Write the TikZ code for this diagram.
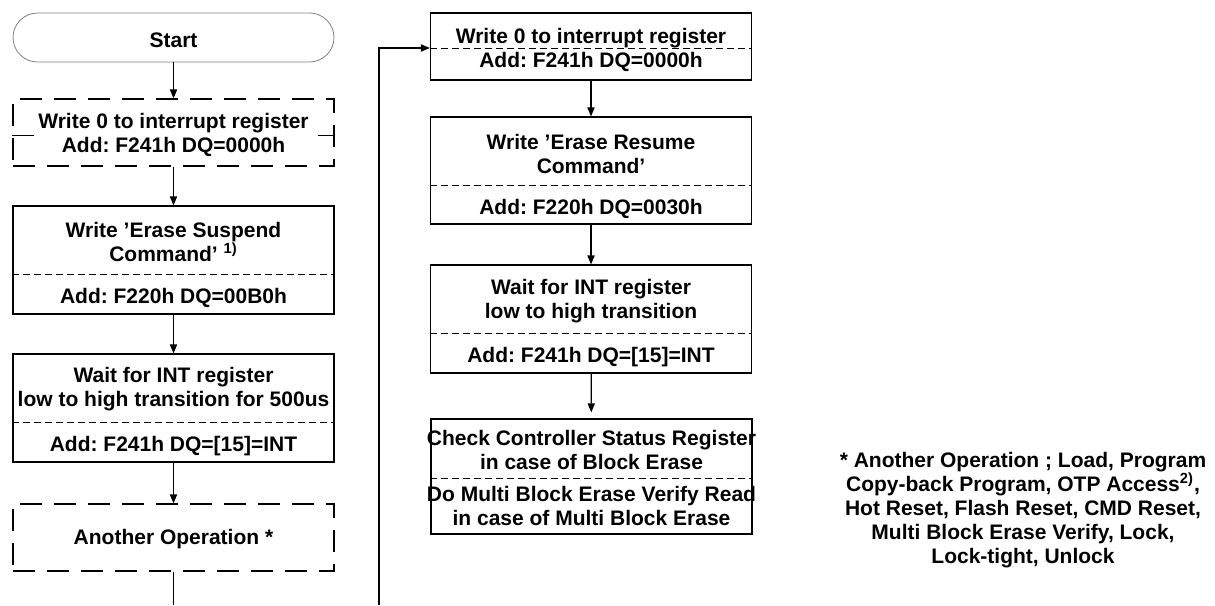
\documentclass[tikz,border=0pt]{standalone}
\usepackage{fontspec}
\setmainfont{Liberation Sans}
\frenchspacing
\usetikzlibrary{arrows.meta,positioning,calc}
\tikzstyle{stepbox} = [rectangle, draw, line width=0.6pt, minimum width=160.5pt, inner sep=0pt,
	font=\fontsize{10.5}{12}\selectfont\bfseries]
\tikzstyle{dashbox} = [stepbox, dash pattern=on 11pt off 6pt]
\tikzstyle{divider} = [line width=0.5pt, dash pattern=on 3.5pt off 2pt]
\tikzstyle{txt} = [align=center, inner sep=0pt, font=\fontsize{10.5}{12}\selectfont\bfseries]
\tikzstyle{flowarrow} = [-{Triangle[length=4.5pt,width=3.6pt]}, line width=0.6pt]

\begin{document}
\begin{tikzpicture}[x=0.5pt, y=-0.5pt]
	\useasboundingbox (0,0) rectangle (1215,605);

	\node[stepbox, draw=gray, line width=0.4pt, rounded corners=12.25pt, minimum height=24.5pt] (start) at (173.5,37.5) {};
	\node[txt] (start-t) at (173.5,40) {Start};

	\node[dashbox, minimum height=33.5pt] (wr0) at (173.5,132.5) {};
	\draw[line width=0.5pt, dash pattern=on 11pt off 6pt] (wr0.west |- 0,135) -- (wr0.east |- 0,135);
	\node[txt, fill=white] (wr0-t) at (173.5,134.5) {Write 0 to interrupt register\\Add: F241h DQ=0000h};

	\node[stepbox, minimum height=54pt] (susp) at (173.5,260) {};
	\draw[divider] (susp.west |- 0,274) -- (susp.east |- 0,274);
	\node[txt] (susp-t) at (173.5,241.5) {Write ’Erase Suspend\\Command’ \textsuperscript{1)}};
	\node[txt] (susp-a) at (173.5,297.5) {Add: F220h DQ=00B0h};

	\node[stepbox, minimum height=54pt] (wait1) at (173.5,408) {};
	\draw[divider] (wait1.west |- 0,422) -- (wait1.east |- 0,422);
	\node[txt] (wait1-t) at (173.5,389) {Wait for INT register\\low to high transition for 500us};
	\node[txt] (wait1-a) at (173.5,446) {Add: F241h DQ=[15]=INT};

	\node[dashbox, minimum height=33.5pt] (other) at (173.5,537.5) {};
	\node[txt] (other-t) at (173.5,539) {Another Operation *};
	\coordinate (exitl) at (173.5,605);

	\node[stepbox, minimum height=33.5pt] (wr0b) at (591,46.5) {};
	\draw[divider] (wr0b.west |- 0,48) -- (wr0b.east |- 0,48);
	\node[txt] (wr0b-t) at (591,49.5) {Write 0 to interrupt register\\Add: F241h DQ=0000h};

	\node[stepbox, minimum height=53.5pt] (resume) at (591,170.5) {};
	\draw[divider] (resume.west |- 0,185) -- (resume.east |- 0,185);
	\node[txt] (resume-t) at (591,154) {Write ’Erase Resume\\Command’};
	\node[txt] (resume-a) at (591,209) {Add: F220h DQ=0030h};

	\node[stepbox, minimum height=54pt] (wait2) at (591,319) {};
	\draw[divider] (wait2.west |- 0,333) -- (wait2.east |- 0,333);
	\node[txt] (wait2-t) at (591,301.5) {Wait for INT register\\low to high transition};
	\node[txt] (wait2-a) at (591,357) {Add: F241h DQ=[15]=INT};

	\node[stepbox, minimum height=57.5pt] (check) at (591.5,476.5) {};
	\draw[divider] (check.west |- 0,478) -- (check.east |- 0,478);
	\node[txt] (check-t) at (591.5,449.5) {Check Controller Status Register\\in case of Block Erase};
	\node[txt] (check-m) at (591.5,506) {Do Multi Block Erase Verify Read\\in case of Multi Block Erase};

	\coordinate (loopin) at (379,605);

	\node[txt] (note) at (1023,510) {* Another Operation ; Load, Program\\
		Copy-back Program, OTP Access\textsuperscript{2)},\\
		Hot Reset, Flash Reset, CMD Reset,\\
		Multi Block Erase Verify, Lock,\\
		Lock-tight, Unlock};

	\draw[flowarrow] (start) -- (wr0);
	\draw[flowarrow] (wr0) -- (susp);
	\draw[flowarrow] (susp) -- (wait1);
	\draw[flowarrow] (wait1) -- (other);
	\draw[line width=0.6pt] (other) -- (exitl);
	\draw[flowarrow] (loopin) |- ($(wr0b.west)+(0,1.5)$);
	\draw[flowarrow] (wr0b) -- (resume);
	\draw[flowarrow] (resume) -- (wait2);
	\draw[flowarrow, shorten >=3pt] (wait2) -- (check);
\end{tikzpicture}
\end{document}
